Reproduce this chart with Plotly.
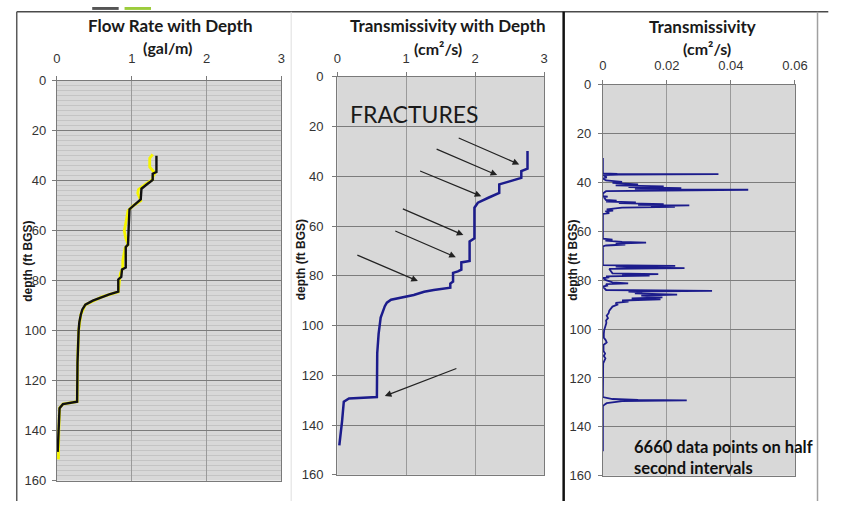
import plotly.graph_objects as go

W, H = 856, 509

# ---- Flow rate with depth (gal/m) ----
flow_depth = [30, 36.5, 37.2, 39.7, 41.5, 43.2, 47.5, 49.5, 51.4, 58, 65.6, 66.5,
              74.7, 75.5, 78.5, 79.5, 84.4, 85.5, 86.5, 88, 89.6, 91.5, 93.5,
              96.5, 99.9, 106, 112.9, 128.4, 129.2, 129.4, 131, 138, 147.8, 148.5]
flow_rate = [1.33, 1.33, 1.28, 1.28, 1.20, 1.13, 1.12, 1.05, 0.97, 0.96, 0.95, 0.92,
             0.92, 0.87, 0.86, 0.82, 0.82, 0.70, 0.60, 0.48, 0.38, 0.34, 0.32,
             0.30, 0.29, 0.28, 0.275, 0.27, 0.15, 0.08, 0.035, 0.025, 0.013, 0.01]

flow2_depth = [29.5, 31, 34.5, 36, 37, 38.5, 39.5, 41.5, 43.5, 45, 46.5, 48, 50, 52,
               57, 60, 63, 65.5, 67, 72, 75, 77, 79, 84.5, 86.5, 89.6, 93.5, 100,
               113, 128.4, 129.4, 131, 140, 151.5]
flow2_rate = [1.28, 1.24, 1.24, 1.29, 1.31, 1.28, 1.28, 1.18, 1.09, 1.08, 1.10, 1.12,
              1.02, 0.95, 0.92, 0.90, 0.92, 0.95, 0.91, 0.88, 0.88, 0.85, 0.84, 0.82,
              0.60, 0.38, 0.32, 0.29, 0.275, 0.27, 0.08, 0.035, 0.025, 0.02]

# ---- Cumulative transmissivity with depth (cm2/s) ----
tcum_depth = [29.8, 36.9, 37.9, 40.6, 42, 43.2, 46.7, 47.2, 48.5, 50.6, 52.6, 64.9,
              66.2, 74.0, 74.6, 77.5, 78.2, 78.8, 82.3, 83.1, 84.8, 85.7, 86.4,
              87.7, 88.7, 89.6, 90.8, 92.2, 96.8, 103.3, 111.1, 128.7, 129.3,
              130.6, 138.4, 148.2]
tcum_value = [2.76, 2.76, 2.67, 2.67, 2.50, 2.35, 2.35, 2.30, 2.20, 2.04, 1.99, 1.99,
              1.92, 1.92, 1.80, 1.80, 1.75, 1.68, 1.68, 1.64, 1.64, 1.40, 1.26,
              1.11, 0.92, 0.78, 0.72, 0.69, 0.63, 0.60, 0.58, 0.575, 0.17,
              0.095, 0.07, 0.03]

# ---- Interval transmissivity (cm2/s) ----
tint_depth = [30.0, 36.3, 36.5, 36.6, 36.8, 37.0, 37.9, 38.4, 39.2, 39.8, 40.2, 40.8,
              41.2, 41.6, 41.9, 42.3, 42.6, 43.0, 43.3, 43.6, 44.5, 45.6, 45.8, 46.0,
              47.2, 47.5, 47.8, 48.2, 48.5, 48.9, 49.2, 49.4, 49.7, 50.0, 50.3, 50.7,
              51.0, 51.5, 51.8, 52.6, 52.9, 63.0, 63.4, 63.8, 64.3, 64.6, 65.0, 65.4,
              65.8, 66.2, 73.8, 74.1, 74.4, 74.8, 75.1, 75.4, 77.2, 77.5, 77.8, 78.1,
              78.4, 78.8, 79.1, 80.0, 80.9, 81.3, 81.6, 82.2, 82.6, 84.0, 84.4, 84.7,
              85.0, 85.4, 85.9, 86.3, 87.0, 87.4, 87.8, 88.3, 88.8, 89.3, 90.0, 90.8,
              91.5, 92.5, 93.5, 94.5, 95.5, 96.5, 97.5, 98.5, 99.5, 100.5, 102, 103.5,
              104.5, 105.5, 106.5, 109, 110, 111, 112, 113, 114, 127.8, 128.2, 128.6,
              129.0, 129.2, 129.5, 129.9, 130.3, 130.8, 131.5, 150]
tint_value = [0, 0, 0.0045, 0.0361, 0.0050, 0, 0.0012, 0, 0.0010, 0.0060, 0.0030, 0.0110,
              0.0040, 0.0190, 0.0080, 0.0245, 0.0100, 0.0454, 0.0060, 0.0010, 0, 0, 0.0015, 0.0003,
              0.0010, 0.0043, 0.0010, 0.0103, 0.0050, 0.0190, 0.0110, 0.0270, 0.0150, 0.0225, 0.0060, 0.0040,
              0.0012, 0.0032, 0.0008, 0.0020, 0, 0, 0.0030, 0.0008, 0.0060, 0.0135, 0.0040, 0.0070,
              0.0010, 0, 0, 0.0226, 0.0040, 0.0110, 0.0255, 0.0020, 0.0030, 0.0173, 0.0060, 0.0146,
              0.0010, 0.0020, 0, 0.0010, 0.0030, 0.0079, 0.0010, 0.0013, 0, 0.0010, 0.0341, 0.0080,
              0.0123, 0.0100, 0.0232, 0.0120, 0.0186, 0.0090, 0.0180, 0.0060, 0.0080, 0.0040, 0.0045, 0.0030,
              0.0025, 0.0020, 0.0018, 0.0012, 0.0016, 0.0010, 0.0011, 0.0008, 0.0007, 0.0004, 0.0003, 0.0003,
              0.0009, 0.0012, 0.0002, 0.0002, 0.0007, 0.0003, 0.0008, 0.0005, 0.0001, 0, 0.0012, 0.0030,
              0.0110, 0.0262, 0.0060, 0.0030, 0.0012, 0.0006, 0, 0]

# fracture arrows on the cumulative panel: (tail value, tail depth, head value, head depth)
fracture_arrows = [
    (1.74, 24.3, 2.64, 35.2),
    (1.42, 28.8, 2.32, 39.5),
    (1.18, 37.6, 2.09, 48.0),
    (0.93, 52.8, 1.83, 63.6),
    (0.82, 61.7, 1.72, 72.5),
    (0.27, 71.4, 1.17, 82.1),
    (1.75, 117.0, 0.69, 128.3),
]

depth_ticks = [0, 20, 40, 60, 80, 100, 120, 140, 160]

NAVY = "#1c1c8c"
TICK_FONT = dict(family="Liberation Sans, Arial", size=13, color="#333333")
TITLE_FONT = dict(family="Lato", size=17, color="#1a1a1a", weight="bold")
UNIT_FONT = dict(family="Lato", size=16, color="#1a1a1a", weight="bold")


def px(x):
    return x / W


def py(y):
    return 1 - y / H


fig = go.Figure()

fig.add_trace(go.Scatter(x=flow2_rate, y=flow2_depth, mode="lines",
                         line=dict(color="#f5f500", width=2.8),
                         xaxis="x", yaxis="y", showlegend=False))
fig.add_trace(go.Scatter(x=flow_rate, y=flow_depth, mode="lines",
                         line=dict(color="#111111", width=2.4),
                         xaxis="x", yaxis="y", showlegend=False))
fig.add_trace(go.Scatter(x=tcum_value, y=tcum_depth, mode="lines",
                         line=dict(color=NAVY, width=2.5),
                         xaxis="x2", yaxis="y2", showlegend=False))
fig.add_trace(go.Scatter(x=tint_value, y=tint_depth, mode="lines",
                         line=dict(color=NAVY, width=1.8),
                         xaxis="x3", yaxis="y3", showlegend=False))

# plot-area boxes in pixels: (left, right, top, bottom)
boxes = {
    "1": (54, 283, 76, 488),
    "2": (340, 551, 72, 482),
    "3": (611, 807, 80, 483),
}


def xaxis_cfg(box, rng, dtick, anchor, standoff):
    l, r, t, b = box
    return dict(domain=[px(l), px(r)], range=rng, dtick=dtick, side="top",
                anchor=anchor, showgrid=True, gridcolor="#9a9a9a", gridwidth=1,
                showline=True, linecolor="#7a7a7a", linewidth=1.2, mirror=True,
                ticks="outside", ticklen=4, tickcolor="#7a7a7a",
                tickfont=TICK_FONT, ticklabelstandoff=standoff, zeroline=False,
                fixedrange=True)


def yaxis_cfg(box, anchor, standoff, minor=False):
    l, r, t, b = box
    cfg = dict(domain=[py(b), py(t)], range=[160, 0], tickvals=depth_ticks,
               anchor=anchor, showgrid=True, gridcolor="#7c7c7c", gridwidth=1.4,
               showline=True, linecolor="#7a7a7a", linewidth=1.2, mirror=True,
               ticks="outside", ticklen=4, tickcolor="#7a7a7a",
               tickfont=TICK_FONT, ticklabelstandoff=standoff, zeroline=False,
               fixedrange=True)
    if minor:
        cfg["minor"] = dict(dtick=2, showgrid=True, gridcolor="#c4c4c4",
                            gridwidth=1, ticks="")
    return cfg


fig.update_layout(
    xaxis=xaxis_cfg(boxes["1"], [0, 3], 1, "y", 7),
    yaxis=yaxis_cfg(boxes["1"], "x", 3, minor=True),
    xaxis2=xaxis_cfg(boxes["2"], [0, 3], 1, "y2", 4),
    yaxis2=yaxis_cfg(boxes["2"], "x2", 6),
    xaxis3=xaxis_cfg(boxes["3"], [0, 0.06], 0.02, "y3", 4),
    yaxis3=yaxis_cfg(boxes["3"], "x3", 4),
)

annotations = []


def label(text, x, y, font, **kw):
    annotations.append(dict(text=text, x=px(x), y=py(y), xref="paper", yref="paper",
                            xanchor="center", yanchor="middle",
                            showarrow=False, font=font, **kw))


label("Flow Rate with Depth", 170, 19, TITLE_FONT)
label("(gal/m)", 167, 42, UNIT_FONT)
label("Transmissivity with Depth", 453, 19, TITLE_FONT)
label("(cm²/s)", 443, 43, UNIT_FONT)
label("Transmissivity", 713, 20, TITLE_FONT)
label("(cm²/s)", 717, 43, UNIT_FONT)

ytitle_font = dict(family="Liberation Sans, Arial", size=12, color="#1a1a1a", weight="bold")
for xc, yc in [(25, 262), (303, 260), (581, 261)]:
    label("depth (ft BGS)", xc, yc, ytitle_font, textangle=-90)

annotations.append(dict(text="FRACTURES", x=1.12, y=15, xref="x2", yref="y2",
                        xanchor="center", yanchor="middle", showarrow=False,
                        font=dict(family="Lato", size=23, color="#1a1a1a")))

for tx, ty, hx, hy in fracture_arrows:
    annotations.append(dict(text="", x=hx, y=hy, xref="x2", yref="y2",
                            ax=tx, ay=ty, axref="x2", ayref="y2",
                            showarrow=True, arrowhead=2, arrowsize=1.1,
                            arrowwidth=1.2, arrowcolor="#222222"))

annotations.append(dict(text="6660 data points on half<br>second intervals",
                        x=0.0092, y=152.5, xref="x3", yref="y3", xanchor="left",
                        yanchor="middle", align="left", showarrow=False,
                        font=dict(family="Lato", size=16.5, color="#111111",
                                  weight="bold")))

shapes = []


def pline(x0, y0, x1, y1, color, width):
    shapes.append(dict(type="line", xref="paper", yref="paper",
                       x0=px(x0), y0=py(y0), x1=px(x1), y1=py(y1),
                       line=dict(color=color, width=width)))


# outer frames around the three panels
pline(13, 5, 841, 5, "#4a4a4a", 1.5)
pline(13, 5, 13, 509, "#5a5a5a", 1.5)
pline(293, 5, 293, 509, "#dedede", 1)
pline(571, 5, 571, 509, "#111111", 2.5)
pline(830, 5, 830, 509, "#a0a0a0", 1.5)

# small tabs along the top edge
shapes.append(dict(type="rect", xref="paper", yref="paper", x0=px(90), x1=px(117),
                   y0=py(3), y1=py(0), fillcolor="#555555", line=dict(width=0)))
shapes.append(dict(type="rect", xref="paper", yref="paper", x0=px(123), x1=px(150),
                   y0=py(3), y1=py(0), fillcolor="#9ccc3c", line=dict(width=0)))

fig.update_layout(
    width=W, height=H, autosize=False,
    margin=dict(l=0, r=0, t=0, b=0),
    paper_bgcolor="white", plot_bgcolor="#d8d8d8",
    showlegend=False,
    annotations=annotations, shapes=shapes,
)

fig.write_html("out.html", config={"displayModeBar": False})
